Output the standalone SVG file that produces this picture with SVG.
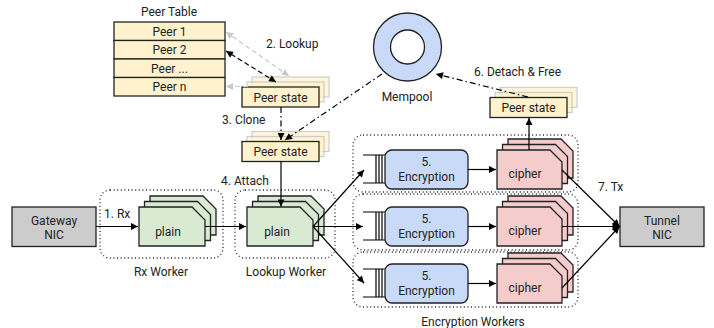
<svg xmlns="http://www.w3.org/2000/svg" width="714" height="328" viewBox="0 0 714 328">
  <defs>
    <marker id="ah" viewBox="0 0 10 10" refX="10" refY="5" markerWidth="8" markerHeight="7" markerUnits="userSpaceOnUse" orient="auto-start-reverse">
      <path d="M0,0 L10,5 L0,10 Z" fill="#000"/>
    </marker>
    <marker id="ahg" viewBox="0 0 10 10" refX="10" refY="5" markerWidth="8" markerHeight="7" markerUnits="userSpaceOnUse" orient="auto-start-reverse">
      <path d="M0,0 L10,5 L0,10 Z" fill="#c8c8c8"/>
    </marker>
    <!-- packet buffer with a clipped top-right corner -->
    <path id="plainShape" d="M0,0 H53 L66,13 V39 H0 Z"/>
    <path id="cipherShape" d="M0,0 H53 L65,12 V39 H0 Z"/>
  </defs>
  <style>
    text { font-family: Roboto, "Liberation Sans", sans-serif; font-size: 12px; fill: #222; }
    .c { text-anchor: middle; }
    .peer { fill: #fff2cc; stroke: #222; stroke-width: 1.3; }
    .ghost { fill: #fff2cc; stroke: #bdbdbd; stroke-width: 1.2; opacity: 0.75; }
    .plain { fill: #d9ead3; stroke: #222; stroke-width: 1.3; }
    .cipher { fill: #f4cccc; stroke: #222; stroke-width: 1.3; }
    .enc { fill: #c9daf8; stroke: #222; stroke-width: 1.3; }
    .nic { fill: #cccccc; stroke: #222; stroke-width: 1.3; }
    .worker { fill: none; stroke: #222; stroke-width: 1.3; stroke-dasharray: 1 2.6; }
    .line { fill: none; stroke: #000; stroke-width: 1.2; }
    .dash { fill: none; stroke: #000; stroke-width: 1.2; stroke-dasharray: 5 3; }
    .gdash { fill: none; stroke: #c8c8c8; stroke-width: 1.2; stroke-dasharray: 5 3; }
    .dashdot { fill: none; stroke: #000; stroke-width: 1.2; stroke-dasharray: 6 3 1.5 3; }
  </style>

  <!-- worker boundaries -->
  <g id="workers">
    <rect class="worker" x="100" y="190" width="123" height="68" rx="10"/>
    <rect class="worker" x="235" y="190" width="100" height="68" rx="10"/>
    <rect class="worker" x="353" y="135" width="225" height="57" rx="10"/>
    <rect class="worker" x="353" y="194" width="225" height="56" rx="10"/>
    <rect class="worker" x="353" y="252" width="225" height="55" rx="10"/>
    <text class="c" x="161" y="276">Rx Worker</text>
    <text class="c" x="286" y="276">Lookup Worker</text>
    <text class="c" x="473" y="326">Encryption Workers</text>
  </g>

  <!-- peer table -->
  <g id="peer-table">
    <text class="c" x="169" y="16">Peer Table</text>
    <rect class="peer" x="114" y="22" width="111" height="18.5"/>
    <rect class="peer" x="114" y="40.5" width="111" height="18.5"/>
    <rect class="peer" x="114" y="59" width="111" height="18.5"/>
    <rect class="peer" x="114" y="77.5" width="111" height="18.5"/>
    <text class="c" x="169.5" y="35.5">Peer 1</text>
    <text class="c" x="169.5" y="54">Peer 2</text>
    <text class="c" x="169.5" y="72.5">Peer ...</text>
    <text class="c" x="169.5" y="91">Peer n</text>
  </g>

  <!-- mempool -->
  <g id="mempool">
    <circle cx="407.5" cy="47" r="34" fill="#c9daf8" stroke="#222" stroke-width="1.3"/>
    <circle cx="407.5" cy="47" r="17" fill="#fff" stroke="#222" stroke-width="1.3"/>
    <text class="c" x="407" y="101">Mempool</text>
  </g>

  <!-- peer state found by lookup -->
  <g id="peer-state-lookup">
    <rect class="ghost" x="252" y="77" width="77" height="20"/>
    <rect class="ghost" x="247" y="82" width="77" height="20"/>
    <rect class="peer" x="242" y="87" width="77" height="20"/>
    <text class="c" x="280.5" y="101.5">Peer state</text>
  </g>

  <!-- cloned peer state -->
  <g id="peer-state-clone">
    <rect class="ghost" x="252" y="131.5" width="77" height="20"/>
    <rect class="ghost" x="247" y="136.5" width="77" height="20"/>
    <rect class="peer" x="242" y="141.5" width="77" height="20"/>
    <text class="c" x="280.5" y="156">Peer state</text>
  </g>

  <!-- peer state detached after encryption -->
  <g id="peer-state-detach">
    <rect class="ghost" x="500" y="87.5" width="77" height="20"/>
    <rect class="ghost" x="495" y="92.5" width="77" height="20"/>
    <rect class="peer" x="490" y="97.5" width="77" height="20"/>
    <text class="c" x="528.5" y="112">Peer state</text>
  </g>

  <!-- NICs -->
  <g id="gateway-nic">
    <rect class="nic" x="12" y="207" width="84" height="39.5"/>
    <text class="c" x="54" y="224.5">Gateway</text>
    <text class="c" x="54" y="238.5">NIC</text>
  </g>
  <g id="tunnel-nic">
    <rect class="nic" x="620" y="207" width="84" height="39.5"/>
    <text class="c" x="662" y="224.5">Tunnel</text>
    <text class="c" x="662" y="238.5">NIC</text>
  </g>

  <!-- plain packet buffers -->
  <g id="plain-rx">
    <use href="#plainShape" class="plain" x="150" y="196"/>
    <use href="#plainShape" class="plain" x="144.5" y="201.5"/>
    <use href="#plainShape" class="plain" x="139" y="207"/>
    <text class="c" x="168" y="235.5">plain</text>
  </g>
  <g id="plain-lookup">
    <use href="#plainShape" class="plain" x="258" y="196"/>
    <use href="#plainShape" class="plain" x="252.5" y="201.5"/>
    <use href="#plainShape" class="plain" x="247" y="207"/>
    <text class="c" x="277" y="235.5">plain</text>
  </g>

  <!-- encryption stages -->
  <g id="enc-1">
    <path class="line" d="M363,155 H385 M363,183 H385 M376,155 V183 M379,155 V183 M382,155 V183"/>
    <rect class="enc" x="385" y="150" width="83" height="39" rx="7"/>
    <text class="c" x="426.5" y="166">5.</text>
    <text class="c" x="426.5" y="181">Encryption</text>
  </g>
  <g id="enc-2">
    <path class="line" d="M363,212 H385 M363,240 H385 M376,212 V240 M379,212 V240 M382,212 V240"/>
    <rect class="enc" x="385" y="207" width="83" height="39" rx="7"/>
    <text class="c" x="426.5" y="223">5.</text>
    <text class="c" x="426.5" y="238">Encryption</text>
  </g>
  <g id="enc-3">
    <path class="line" d="M363,269 H385 M363,297 H385 M376,269 V297 M379,269 V297 M382,269 V297"/>
    <rect class="enc" x="385" y="264" width="83" height="39" rx="7"/>
    <text class="c" x="426.5" y="280">5.</text>
    <text class="c" x="426.5" y="295">Encryption</text>
  </g>

  <!-- cipher packet buffers -->
  <g id="cipher-1">
    <use href="#cipherShape" class="cipher" x="508" y="139"/>
    <use href="#cipherShape" class="cipher" x="502.5" y="144.5"/>
    <use href="#cipherShape" class="cipher" x="497" y="150"/>
    <text class="c" x="525" y="178">cipher</text>
  </g>
  <g id="cipher-2">
    <use href="#cipherShape" class="cipher" x="508" y="196"/>
    <use href="#cipherShape" class="cipher" x="502.5" y="201.5"/>
    <use href="#cipherShape" class="cipher" x="497" y="207"/>
    <text class="c" x="525" y="235">cipher</text>
  </g>
  <g id="cipher-3">
    <use href="#cipherShape" class="cipher" x="508" y="253"/>
    <use href="#cipherShape" class="cipher" x="502.5" y="258.5"/>
    <use href="#cipherShape" class="cipher" x="497" y="264"/>
    <text class="c" x="525" y="292">cipher</text>
  </g>

  <!-- connectors -->
  <g id="connectors">
    <!-- 1. Rx -->
    <path class="line" d="M96,226.5 H138" marker-end="url(#ah)"/>
    <path class="line" d="M205,226.5 H246" marker-end="url(#ah)"/>
    <!-- 2. Lookup -->
    <path class="gdash" d="M289,76 L226,32" marker-start="url(#ahg)" marker-end="url(#ahg)"/>
    <path class="dash" d="M276,82 L226,51" marker-start="url(#ah)" marker-end="url(#ah)"/>
    <path class="gdash" d="M248,86.5 H226" marker-end="url(#ahg)"/>
    <!-- 3. Clone -->
    <path class="dashdot" d="M281,107 V140" marker-end="url(#ah)"/>
    <path class="dashdot" d="M382,74 L285,140" marker-end="url(#ah)"/>
    <!-- 4. Attach -->
    <path class="line" d="M281,161.5 V206.5" marker-end="url(#ah)"/>
    <!-- dispatch to encryption workers -->
    <path class="line" d="M313,226.5 L364,170" marker-end="url(#ah)"/>
    <path class="line" d="M313,226.5 H363" marker-end="url(#ah)"/>
    <path class="line" d="M313,226.5 L364,283" marker-end="url(#ah)"/>
    <!-- 5. Encryption -->
    <path class="line" d="M468,169.5 H496" marker-end="url(#ah)"/>
    <path class="line" d="M468,226.5 H496" marker-end="url(#ah)"/>
    <path class="line" d="M468,283.5 H496" marker-end="url(#ah)"/>
    <!-- 6. Detach & Free -->
    <path class="line" d="M529,150 V118" marker-end="url(#ah)"/>
    <path class="dashdot" d="M528,97 L436,74" marker-end="url(#ah)"/>
    <!-- 7. Tx -->
    <path class="line" d="M562,170 L619.5,226.5" marker-end="url(#ah)"/>
    <path class="line" d="M562,226.5 H619.5" marker-end="url(#ah)"/>
    <path class="line" d="M562,288 L619.5,226.5" marker-end="url(#ah)"/>
  </g>

  <!-- step labels -->
  <g id="labels">
    <text x="104" y="218">1. Rx</text>
    <text x="266" y="48">2. Lookup</text>
    <text x="222" y="124">3. Clone</text>
    <text x="221" y="184.5">4. Attach</text>
    <text x="474" y="76">6. Detach &amp; Free</text>
    <text x="598" y="191">7. Tx</text>
  </g>
</svg>
